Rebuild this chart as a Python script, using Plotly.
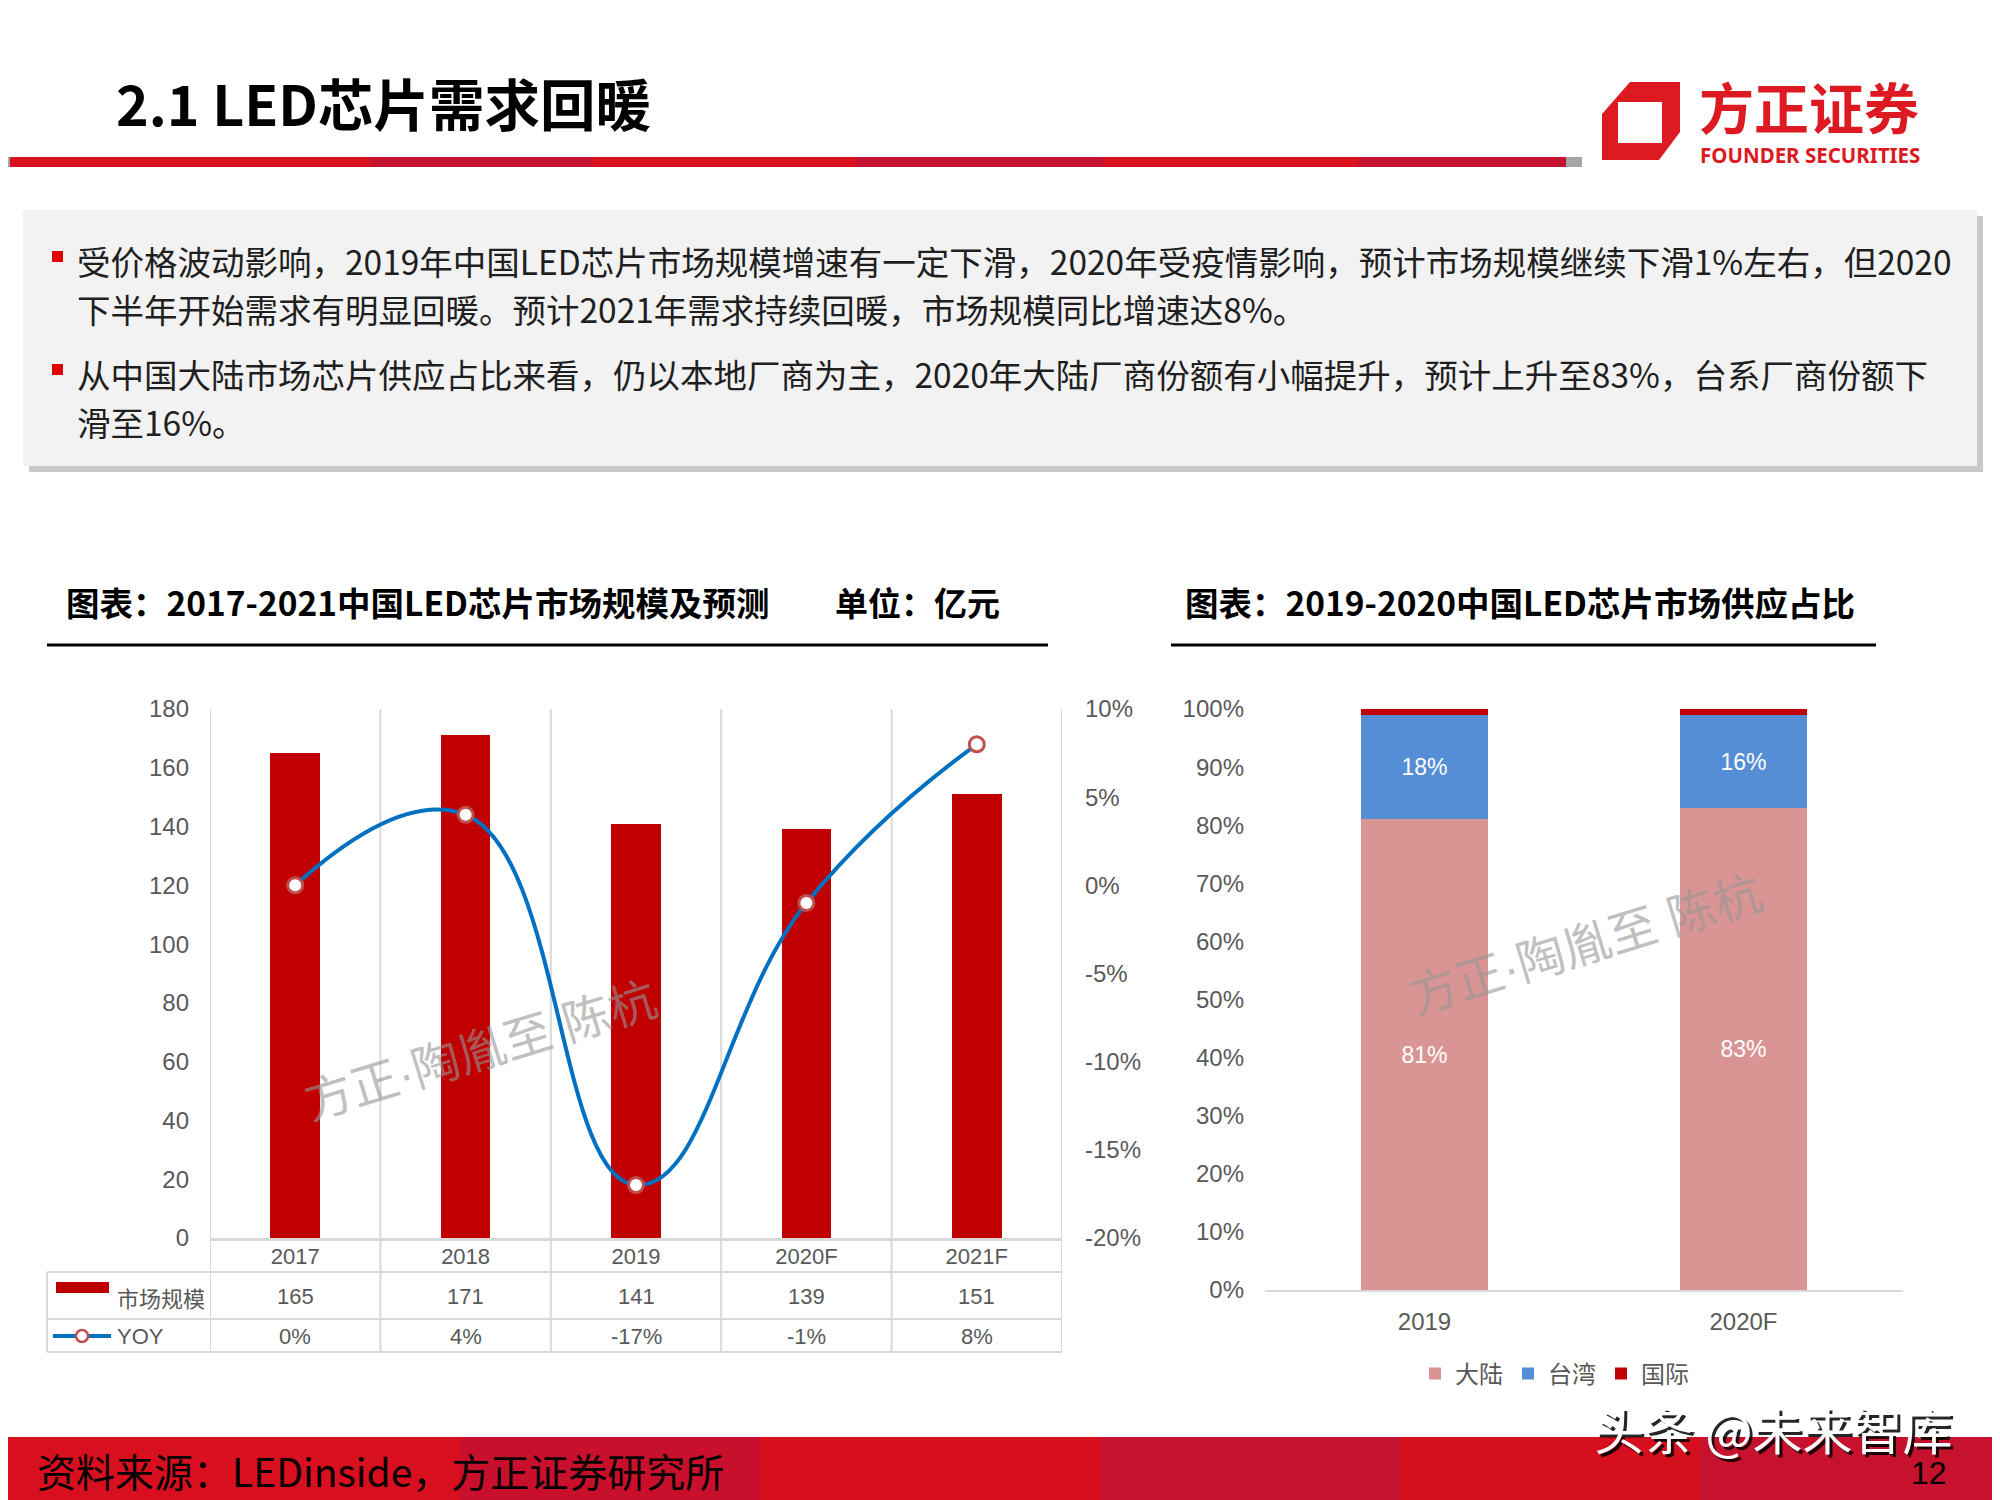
import plotly.graph_objects as go

# the page body has an 8px margin; map reference pixels onto the figure accordingly
OFF = 8
W, H = 2000 - OFF, 1500 - OFF
def px(x): return (x - OFF) / W
def py(y): return 1 - (y - OFF) / H

# ---------------- data ----------------
years = ["2017", "2018", "2019", "2020F", "2021F"]
market_size = [165, 171, 141, 139, 151]
yoy = [0.00, 0.04, -0.17, -0.01, 0.08]
yoy_labels = ["0%", "4%", "-17%", "-1%", "8%"]
size_ticks = [0, 20, 40, 60, 80, 100, 120, 140, 160, 180]
yoy_ticks = [-0.20, -0.15, -0.10, -0.05, 0.00, 0.05, 0.10]
yoy_tick_text = ["-20%", "-15%", "-10%", "-5%", "0%", "5%", "10%"]

supply_years = ["2019", "2020F"]
mainland = [0.81, 0.83]
taiwan = [0.18, 0.16]
international = [0.01, 0.01]
share_ticks = [0, 0.1, 0.2, 0.3, 0.4, 0.5, 0.6, 0.7, 0.8, 0.9, 1.0]
share_tick_text = ["0%", "10%", "20%", "30%", "40%", "50%", "60%", "70%", "80%", "90%", "100%"]

bullet_lines = [
    "受价格波动影响，2019年中国LED芯片市场规模增速有一定下滑，2020年受疫情影响，预计市场规模继续下滑1%左右，但2020",
    "下半年开始需求有明显回暖。预计2021年需求持续回暖，市场规模同比增速达8%。",
    "从中国大陆市场芯片供应占比来看，仍以本地厂商为主，2020年大陆厂商份额有小幅提升，预计上升至83%，台系厂商份额下",
    "滑至16%。",
]

CJK = "Noto Sans CJK SC"
LAT = "Liberation Sans, Arial, Noto Sans CJK SC"
GRAY = "#595959"
GRID = "#D9D9D9"
RED = "#C00000"
BLUE = "#0070C0"
MK = "#C0504D"

fig = go.Figure()

# left chart
fig.add_trace(go.Bar(x=years, y=market_size, width=0.29, marker=dict(color=RED, line=dict(width=0)),
                     xaxis="x", yaxis="y", showlegend=False, name="市场规模"))
fig.add_trace(go.Scatter(x=years, y=yoy, xaxis="x", yaxis="y2", mode="lines+markers", showlegend=False,
                         name="YOY", line=dict(color=BLUE, width=4, shape="spline", smoothing=1.3),
                         marker=dict(size=15, color="white", line=dict(color=MK, width=3))))

# right chart
fig.add_trace(go.Bar(x=supply_years, y=mainland, name="大陆", xaxis="x2", yaxis="y3", width=0.4,
                     marker=dict(color="#D99594", line=dict(width=0)),
                     text=[f"{v:.0%}" for v in mainland], textposition="inside", insidetextanchor="middle",
                     textfont=dict(color="white", size=23, family=LAT), textangle=0))
fig.add_trace(go.Bar(x=supply_years, y=taiwan, name="台湾", xaxis="x2", yaxis="y3", width=0.4,
                     marker=dict(color="#558ED5", line=dict(width=0)),
                     text=[f"{v:.0%}" for v in taiwan], textposition="inside", insidetextanchor="middle",
                     textfont=dict(color="white", size=23, family=LAT), textangle=0))
fig.add_trace(go.Bar(x=supply_years, y=international, name="国际", xaxis="x2", yaxis="y3", width=0.4,
                     marker=dict(color=RED, line=dict(width=0))))

shapes = []
ann = []

def rect(x0, y0, x1, y1, color, layer="below"):
    shapes.append(dict(type="rect", xref="paper", yref="paper", x0=px(x0), x1=px(x1), y0=py(y1), y1=py(y0),
                       fillcolor=color, line=dict(width=0), layer=layer))

def hline(x0, x1, y, color, w, layer="above"):
    shapes.append(dict(type="line", xref="paper", yref="paper", x0=px(x0), x1=px(x1), y0=py(y), y1=py(y),
                       line=dict(color=color, width=w), layer=layer))

def text(x, y, s, size, color="#000", family=CJK, xanchor="left", yanchor="middle", angle=0):
    ann.append(dict(x=px(x), y=py(y), xref="paper", yref="paper", text=s, showarrow=False,
                    xanchor=xanchor, yanchor=yanchor, textangle=angle,
                    font=dict(size=size, color=color, family=family)))

# ---------------- header ----------------
rect(0, 157, 10, 167, "#A6A6A6")
rect(10, 157, 1566, 167, "#DA111E")
for a, b in [(370, 593), (855, 1103), (1358, 1566)]:
    rect(a, 157, b, 167, "#C41230")
rect(1566, 157, 1582, 167, "#A6A6A6")
text(114, 102, "<b>2.1 LED芯片需求回暖</b>", 55.5, "#000")

# logo
pts = [(1630, 82), (1680, 82), (1680, 132), (1659, 160), (1602, 160), (1602, 114)]
path = "M " + " L ".join(f"{px(x):.5f},{py(y):.5f}" for x, y in pts) + " Z"
shapes.append(dict(type="path", xref="paper", yref="paper", path=path, fillcolor="#DD1A21",
                   line=dict(width=0), layer="above"))
rect(1618, 102, 1662, 143, "white", layer="above")
text(1809, 105, "<b>方正证券</b>", 55, "#DD1A21", xanchor="center")
text(1810, 155, "<b>FOUNDER SECURITIES</b>", 20.5, "#DD1A21", family="Noto Sans, Liberation Sans", xanchor="center")

# ---------------- text box ----------------
rect(29, 216, 1983, 472, "#C9C9C9")
rect(23, 210, 1977, 466, "#F2F2F2")
rect(52, 251, 63, 262, "#E00000", layer="above")
rect(52, 364, 63, 375, "#E00000", layer="above")
for s, y in zip(bullet_lines, [261, 309, 373, 421]):
    text(75, y, s, 33.5, "#1F1F1F")

# ---------------- chart titles ----------------
text(64, 602, "<b>图表：2017-2021中国LED芯片市场规模及预测</b>", 33.5)
text(833, 602, "<b>单位：亿元</b>", 33)
hline(47, 1048, 645, "#000", 3)
text(1183, 602, "<b>图表：2019-2020中国LED芯片市场供应占比</b>", 33.5)
hline(1171, 1876, 645, "#000", 3)

# ---------------- left chart grid + table ----------------
for i in range(len(years) + 1):
    shapes.append(dict(type="line", xref="x", yref="paper", x0=i - 0.5, x1=i - 0.5, y0=py(1352), y1=py(709),
                       line=dict(color=GRID, width=2), layer="below"))
shapes.append(dict(type="line", xref="paper", yref="paper", x0=px(47), x1=px(47), y0=py(1352), y1=py(1272),
                   line=dict(color=GRID, width=2), layer="below"))
for y in [1272, 1319, 1352]:
    hline(47, 1062, y, GRID, 2, layer="below")

for i, (v, t) in enumerate(zip(market_size, yoy_labels)):
    ann.append(dict(x=i, y=py(1296), xref="x", yref="paper", text=str(v), showarrow=False,
                    xanchor="center", yanchor="middle", font=dict(size=22, color=GRAY, family=LAT)))
    ann.append(dict(x=i, y=py(1336), xref="x", yref="paper", text=t, showarrow=False,
                    xanchor="center", yanchor="middle", font=dict(size=22, color=GRAY, family=LAT)))
# table legend keys
rect(56, 1282, 109, 1293, RED, layer="above")
text(115, 1297, "市场规模", 22, GRAY)
hline(53, 111, 1336, BLUE, 4)
shapes.append(dict(type="circle", xref="paper", yref="paper", x0=px(76), x1=px(88), y0=py(1342), y1=py(1330),
                   fillcolor="white", line=dict(color=MK, width=2.5), layer="above"))
text(115, 1336, "YOY", 22, GRAY, family=LAT)

# ---------------- watermarks ----------------
WM = "Liberation Sans, Noto Sans CJK SC"
text(480, 1051, "方正·陶胤至 陈杭", 48, "rgba(150,150,150,0.6)", family=WM, xanchor="center", angle=-17)
text(1585, 945, "方正·陶胤至 陈杭", 48, "rgba(150,150,150,0.6)", family=WM, xanchor="center", angle=-17)

# ---------------- footer ----------------
reds = ["#D80F1E", "#C8102C", "#D70F1C", "#C5122E", "#D50F1E", "#C6122C"]
edges = [0, 460, 760, 1100, 1400, 1700, 2000]
for c, a, b in zip(reds, edges[:-1], edges[1:]):
    rect(a, 1437, b, 1500, c, layer="above")
text(35, 1470, "资料来源：LEDinside，方正证券研究所", 39, "#000")
text(1776, 1431, "头条 @未来智库", 50, "rgba(0,0,0,0.85)", xanchor="center")
text(1773, 1428, "头条 @未来智库", 50, "white", xanchor="center")
text(1929, 1473, "12", 32, "#000", family=LAT, xanchor="center")

axis_font = dict(size=24, color=GRAY, family=LAT)
fig.update_layout(
    width=W, height=H, margin=dict(l=0, r=0, t=0, b=0, pad=0, autoexpand=False),
    paper_bgcolor="white", plot_bgcolor="rgba(0,0,0,0)",
    barmode="stack", bargap=0,
    shapes=shapes, annotations=ann,
    xaxis=dict(domain=[px(210), px(1062)], type="category", range=[-0.5, 4.5], anchor="y",
               showline=True, linecolor=GRID, linewidth=3, showgrid=False, ticks="", automargin=False,
               tickfont=dict(size=22, color=GRAY, family=LAT), ticklabelstandoff=-3, fixedrange=True),
    yaxis=dict(domain=[py(1238), py(709)], range=[0, 180], tickvals=size_ticks, anchor="x", automargin=False,
               showgrid=False, zeroline=False, showline=False, ticks="", tickfont=axis_font,
               ticklabelstandoff=20),
    yaxis2=dict(overlaying="y", side="right", anchor="x", range=[-0.20, 0.10], tickvals=yoy_ticks,
                ticktext=yoy_tick_text, showgrid=False, zeroline=False, showline=False, ticks="",
                tickfont=axis_font, ticklabelstandoff=22, automargin=False),
    xaxis2=dict(domain=[px(1265), px(1903)], type="category", anchor="y3", showline=True, linecolor=GRID,
                linewidth=2, showgrid=False, ticks="", tickfont=axis_font, ticklabelstandoff=9,
                automargin=False),
    yaxis3=dict(domain=[py(1290), py(709)], range=[0, 1], tickvals=share_ticks, ticktext=share_tick_text,
                anchor="x2", showgrid=False, zeroline=False, showline=False, ticks="", tickfont=axis_font,
                ticklabelstandoff=20, automargin=False),
    legend=dict(orientation="h", x=px(1415), y=py(1374), xanchor="left", yanchor="middle",
                font=dict(size=24, color=GRAY, family=CJK), traceorder="normal", itemwidth=30,
                bgcolor="rgba(0,0,0,0)"),
)

fig.write_html("out.html")
